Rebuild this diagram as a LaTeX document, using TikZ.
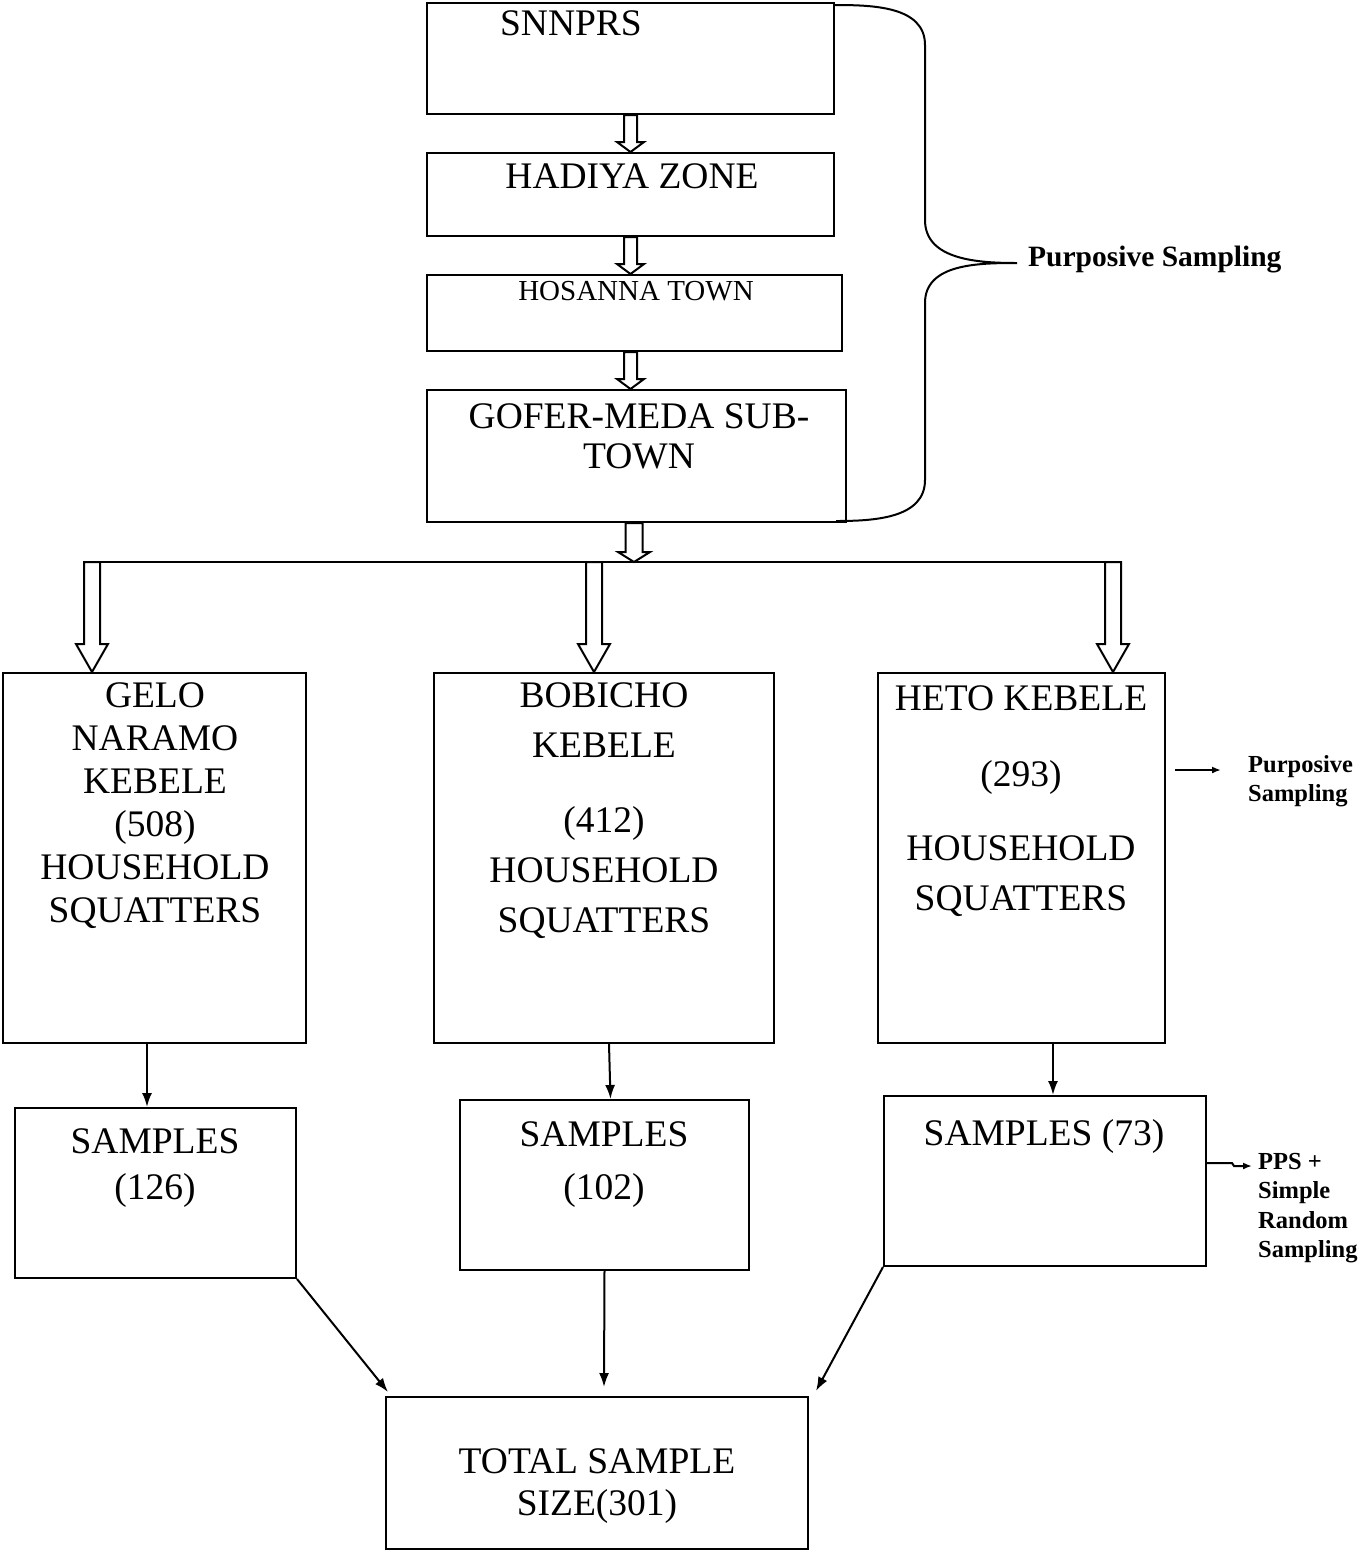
\documentclass[tikz,border=0pt]{standalone}
\usepackage{fontspec}
\setmainfont{Liberation Serif}
\usetikzlibrary{arrows.meta, calc, fit}

\tikzset{
  box/.style={draw, line width=2pt, inner sep=0pt},
  txt/.style={font=\fontsize{37.5}{43}\selectfont, align=center, anchor=north, inner sep=0pt},
  note/.style={font=\bfseries\fontsize{24.5}{29.5}\selectfont, align=left, anchor=north west, inner sep=0pt},
  hollow/.style={draw, fill=white, line width=2pt, line join=miter},
  arr/.style={line width=2pt, -{Latex[length=14pt,width=10pt]}},
  smallarr/.style={line width=2pt, -{Latex[length=9pt,width=7pt]}},
  brace/.style={line width=2pt}
}

% block arrow pointing down: start, end, shaft half width, head half width, head length
\newcommand{\hollowdown}[5]{%
  \draw[hollow] let \p1=#1, \p2=#2 in
    (\x1-#3,\y1) -- (\x1+#3,\y1) -- (\x1+#3,\y2+#5) -- (\x1+#4,\y2+#5)
    -- (\x1,\y2) -- (\x1-#4,\y2+#5) -- (\x1-#3,\y2+#5) -- cycle;}

\begin{document}
\begin{tikzpicture}[x=1pt, y=-1pt]
  \useasboundingbox (0,0) rectangle (1363,1551);

  % Administrative levels
  \node[box, fit={(427,3) (834,114)}] (snnprs) {};
  \node[box, fit={(427,153) (834,236)}] (hadiya) {};
  \node[box, fit={(427,275) (842,351)}] (hosanna) {};
  \node[box, fit={(427,390) (846,522)}] (gofer) {};
  \node[txt] (snnprs-t) at (571,10) {SNNPRS};
  \node[txt] (hadiya-t) at (632,163) {HADIYA ZONE};
  \node[txt, font=\fontsize{29}{32}\selectfont] (hosanna-t) at (636,281) {HOSANNA TOWN};
  \node[txt, font=\fontsize{37.5}{40}\selectfont] (gofer-t) at (639,403) {GOFER-MEDA SUB-\\TOWN};

  \hollowdown{(snnprs.south)}{(hadiya.north)}{6.5pt}{13.5pt}{10pt}
  \hollowdown{(hadiya.south)}{(hosanna.north)}{6.5pt}{13.5pt}{10pt}
  \hollowdown{(hosanna.south -| hadiya.south)}{(gofer.north)}{6.5pt}{13.5pt}{10pt}

  % Purposive brace
  \draw[brace] (834,5) to[out=0,in=90] (925,45) -- (925,220) to[out=-90,in=180] (1017,263)
    (1017,263) to[out=180,in=90] (925,303) -- (925,480) to[out=-90,in=0] (836,521);
  \node[font=\bfseries\fontsize{29.5}{34}\selectfont, anchor=base west, inner sep=0pt]
    (purp1) at (1028,266) {Purposive Sampling};

  % Kebeles
  \node[box, fit={(3,673) (306,1043)}] (gelo) {};
  \node[box, fit={(434,673) (774,1043)}] (bobicho) {};
  \node[box, fit={(878,673) (1165,1043)}] (heto) {};
  \node[txt] (gelo-t) at (155,682) {GELO\\NARAMO\\KEBELE\\(508)\\HOUSEHOLD\\SQUATTERS};
  \node[txt, font=\fontsize{37.5}{50}\selectfont] (bobicho-t) at (604,682) {BOBICHO\\KEBELE\\[25pt](412)\\HOUSEHOLD\\SQUATTERS};
  \node[txt, font=\fontsize{37.5}{50}\selectfont] (heto-t) at (1021,685) {HETO KEBELE\\[26pt](293)\\[24pt]HOUSEHOLD\\SQUATTERS};

  \coordinate (hub) at (634,562);
  \coordinate (brL) at (92,562);
  \coordinate (brM) at (594,562);
  \coordinate (brR) at (1113,562);
  \draw[line width=2pt] (brL) -- (brR);
  \hollowdown{(gofer.south -| hub)}{(hub)}{8.5pt}{16pt}{10pt}
  \hollowdown{(brL)}{(brL |- gelo.north)}{8pt}{16pt}{28pt}
  \hollowdown{(brM)}{(brM |- bobicho.north)}{8pt}{16pt}{28pt}
  \hollowdown{(brR)}{(brR |- heto.north)}{8pt}{16pt}{28pt}

  \coordinate (pa1) at (1175,770);
  \coordinate (pa2) at (1221,770);
  \draw[smallarr] (pa1) -- (pa2);
  \node[note] (purp2) at (1248,755) {Purposive\\Sampling};

  % Samples
  \node[box, fit={(15,1108) (296,1278)}] (samp1) {};
  \node[box, fit={(460,1100) (749,1270)}] (samp2) {};
  \node[box, fit={(884,1096) (1206,1266)}] (samp3) {};
  \node[txt, font=\fontsize{37.5}{46}\selectfont] (samp1-t) at (155,1128) {SAMPLES\\(126)};
  \node[txt, font=\fontsize{37.5}{53}\selectfont] (samp2-t) at (604,1121) {SAMPLES\\(102)};
  \node[txt] (samp3-t) at (1044,1119) {SAMPLES (73)};

  \draw[arr] ([xshift=-7.5pt]gelo.south) -- ([xshift=-8.5pt]samp1.north);
  \draw[arr] ([xshift=5pt]bobicho.south) -- ([xshift=6pt]samp2.north);
  \draw[arr] ([xshift=31.5pt]heto.south) -- ([xshift=8pt]samp3.north);

  \draw[smallarr] ([yshift=18pt]samp3.east) -- ++(25,0) -- ++(2,3) -- ++(18,0);
  \node[note] (pps) at (1258,1153) {PPS +\\Simple\\Random\\Sampling};

  % Total
  \node[box, fit={(386,1397) (808,1549)}] (total) {};
  \node[txt, font=\fontsize{37.5}{42}\selectfont] (total-t) at (597,1448) {TOTAL SAMPLE\\SIZE(301)};

  \draw[arr] (samp1.south east) -- ([xshift=3pt,yshift=4pt]total.north west);
  \draw[arr] (samp2.south) -- ([xshift=7pt,yshift=9pt]total.north);
  \draw[arr] (samp3.south west) -- ([xshift=7pt,yshift=5pt]total.north east);

\end{tikzpicture}
\end{document}
